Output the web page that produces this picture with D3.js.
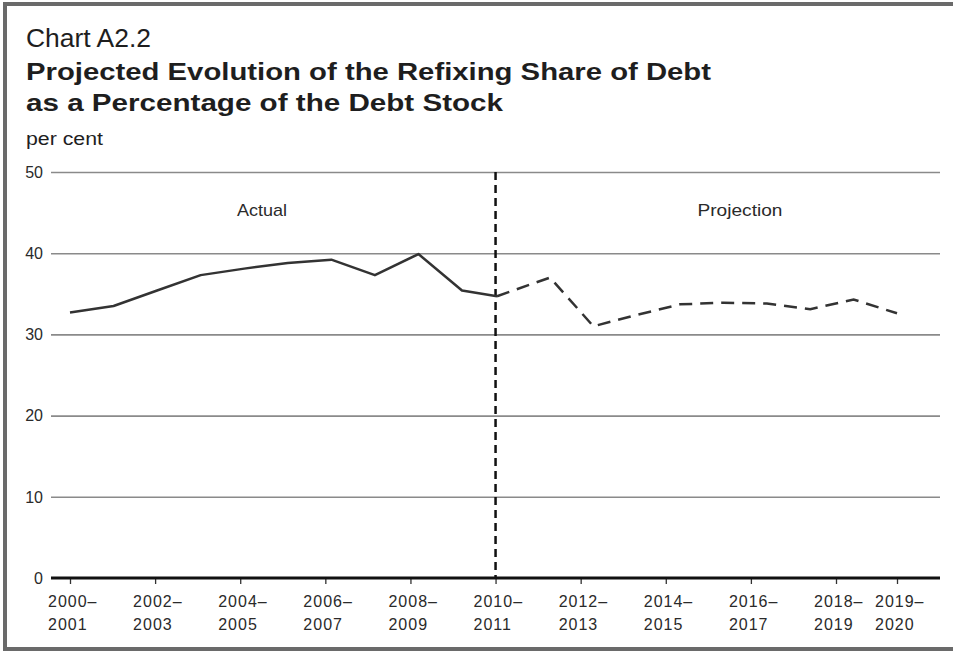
<!DOCTYPE html>
<html>
<head>
<meta charset="utf-8">
<script src="https://cdn.jsdelivr.net/npm/d3@7"></script>
<style>
  body { margin: 0; background: #fff; }
  svg { display: block; font-family: "Liberation Sans", Arial, Helvetica, sans-serif; }
</style>
</head>
<body>
<svg id="chart" width="953" height="651"></svg>
<script>
// DATA -----------------------------------------------------------
const actualYears = [2000, 2001, 2002, 2003, 2004, 2005, 2006, 2007, 2008, 2009, 2010]
const actualValues = [32.7, 33.5, 35.4, 37.3, 38.1, 38.8, 39.2, 37.3, 39.9, 35.4, 34.7]

const projectionYears = [2010, 2011, 2012, 2013, 2014, 2015, 2016, 2017, 2018, 2019]
const projectionValues = [34.7, 37.0, 31.0, 32.4, 33.7, 33.9, 33.8, 33.1, 34.3, 32.6]

const tickYears = [2000, 2002, 2004, 2006, 2008, 2010, 2012, 2014, 2016, 2018, 2019]
const tickLabels = [
    ["2000–", "2001"], ["2002–", "2003"], ["2004–", "2005"], ["2006–", "2007"],
    ["2008–", "2009"], ["2010–", "2011"], ["2012–", "2013"], ["2014–", "2015"],
    ["2016–", "2017"], ["2018–", "2019"], ["2019–", "2020"]
]
const yTicks = [0, 10, 20, 30, 40, 50]
const splitYear = 2010

const svg = d3.select("#chart")

// FRAME + TITLES -----------------------------------------------------------
svg.append("rect")
    .attr("x", 5).attr("y", 4)
    .attr("width", 970).attr("height", 645)
    .attr("fill", "#fff")
    .attr("stroke", "#6a6a6a")
    .attr("stroke-width", 4)

const titles = [
    { text: "Chart A2.2", y: 47, size: 25, weight: "normal", len: 125 },
    { text: "Projected Evolution of the Refixing Share of Debt", y: 80, size: 24, weight: "bold", len: 685 },
    { text: "as a Percentage of the Debt Stock", y: 111, size: 24, weight: "bold", len: 477 },
    { text: "per cent", y: 145, size: 18, weight: "normal", len: 77 }
]

titles.forEach(t => {
    svg.append("text")
        .attr("x", 26)
        .attr("y", t.y)
        .attr("font-size", t.size)
        .attr("font-weight", t.weight)
        .attr("fill", "#1e1e1e")
        .attr("textLength", t.len)
        .attr("lengthAdjust", "spacingAndGlyphs")
        .text(t.text)
})

// SCALES -----------------------------------------------------------
// the original draws the data points on a slightly different spacing
// than the category ticks, so the two get their own scales
const xData = d3.scaleLinear()
    .domain([2000, 2009, 2010, 2011, 2019])
    .range([70, 462, 497, 550, 897])

const xTick = d3.scaleLinear()
    .domain([2000, 2018, 2019])
    .range([70, 836, 897])

const yScale = d3.scaleLinear()
    .domain([0, 50])
    .range([578, 172])

const gridLeft = 51
const gridRight = 940

// GRID + Y AXIS -----------------------------------------------------------
const yAxis = svg.append("g")
    .attr("transform", `translate(${gridLeft}, 0)`)
    .call(d3.axisRight(yScale)
        .tickValues(yTicks.filter(d => d > 0))
        .tickSize(gridRight - gridLeft)
        .tickFormat(""))

yAxis.select(".domain").remove()
yAxis.selectAll(".tick line")
    .attr("stroke", "#8a8a8a")
    .attr("stroke-width", 1.6)

svg.append("g")
    .selectAll("text")
    .data(yTicks)
    .join("text")
        .attr("x", 43)
        .attr("y", d => yScale(d))
        .attr("dy", "0.36em")
        .attr("text-anchor", "end")
        .attr("font-size", 16)
        .attr("fill", "#2a2a2a")
        .text(d => d)

// X AXIS -----------------------------------------------------------
const xAxis = svg.append("g")
    .attr("transform", `translate(0, ${yScale(0)})`)
    .call(d3.axisBottom(xTick)
        .tickValues(tickYears)
        .tickSize(6)
        .tickFormat(""))

xAxis.select(".domain").remove()
xAxis.selectAll(".tick line")
    .attr("stroke", "#333")
    .attr("stroke-width", 1.3)

svg.append("line")
    .attr("x1", gridLeft).attr("x2", gridRight)
    .attr("y1", yScale(0)).attr("y2", yScale(0))
    .attr("stroke", "#111")
    .attr("stroke-width", 3)

const labels = svg.append("g")
    .selectAll("text")
    .data(tickYears)
    .join("text")
        .attr("x", d => xTick(d) - 22)
        .attr("font-size", 16)
        .attr("letter-spacing", 1)
        .attr("fill", "#2a2a2a")

labels.each(function(d, i) {
    const el = d3.select(this)
    tickLabels[i].forEach((line, j) => {
        el.append("tspan")
            .attr("x", xTick(d) - 22)
            .attr("y", 607 + j * 23)
            .text(line)
    })
})

// SPLIT LINE + SECTION LABELS -----------------------------------------------------------
svg.append("line")
    .attr("x1", xTick(splitYear)).attr("x2", xTick(splitYear))
    .attr("y1", yScale(50)).attr("y2", yScale(0))
    .attr("stroke", "#111")
    .attr("stroke-width", 2.5)
    .attr("stroke-dasharray", "8,5")

svg.append("text")
    .attr("x", 262).attr("y", 216)
    .attr("text-anchor", "middle")
    .attr("font-size", 17)
    .attr("fill", "#2a2a2a")
    .attr("textLength", 50)
    .attr("lengthAdjust", "spacingAndGlyphs")
    .text("Actual")

svg.append("text")
    .attr("x", 740).attr("y", 216)
    .attr("text-anchor", "middle")
    .attr("font-size", 17)
    .attr("fill", "#2a2a2a")
    .attr("textLength", 85)
    .attr("lengthAdjust", "spacingAndGlyphs")
    .text("Projection")

// DRAW DATA -----------------------------------------------------------
const line = d3.line()
    .x(d => xData(d[0]))
    .y(d => yScale(d[1]))

svg.append("path")
    .datum(d3.zip(actualYears, actualValues))
    .attr("d", line)
    .attr("fill", "none")
    .attr("stroke", "#333")
    .attr("stroke-width", 2.5)
    .attr("stroke-linejoin", "round")

svg.append("path")
    .datum(d3.zip(projectionYears, projectionValues))
    .attr("d", line)
    .attr("fill", "none")
    .attr("stroke", "#333")
    .attr("stroke-width", 2.5)
    .attr("stroke-dasharray", "13,8")
</script>
</body>
</html>
